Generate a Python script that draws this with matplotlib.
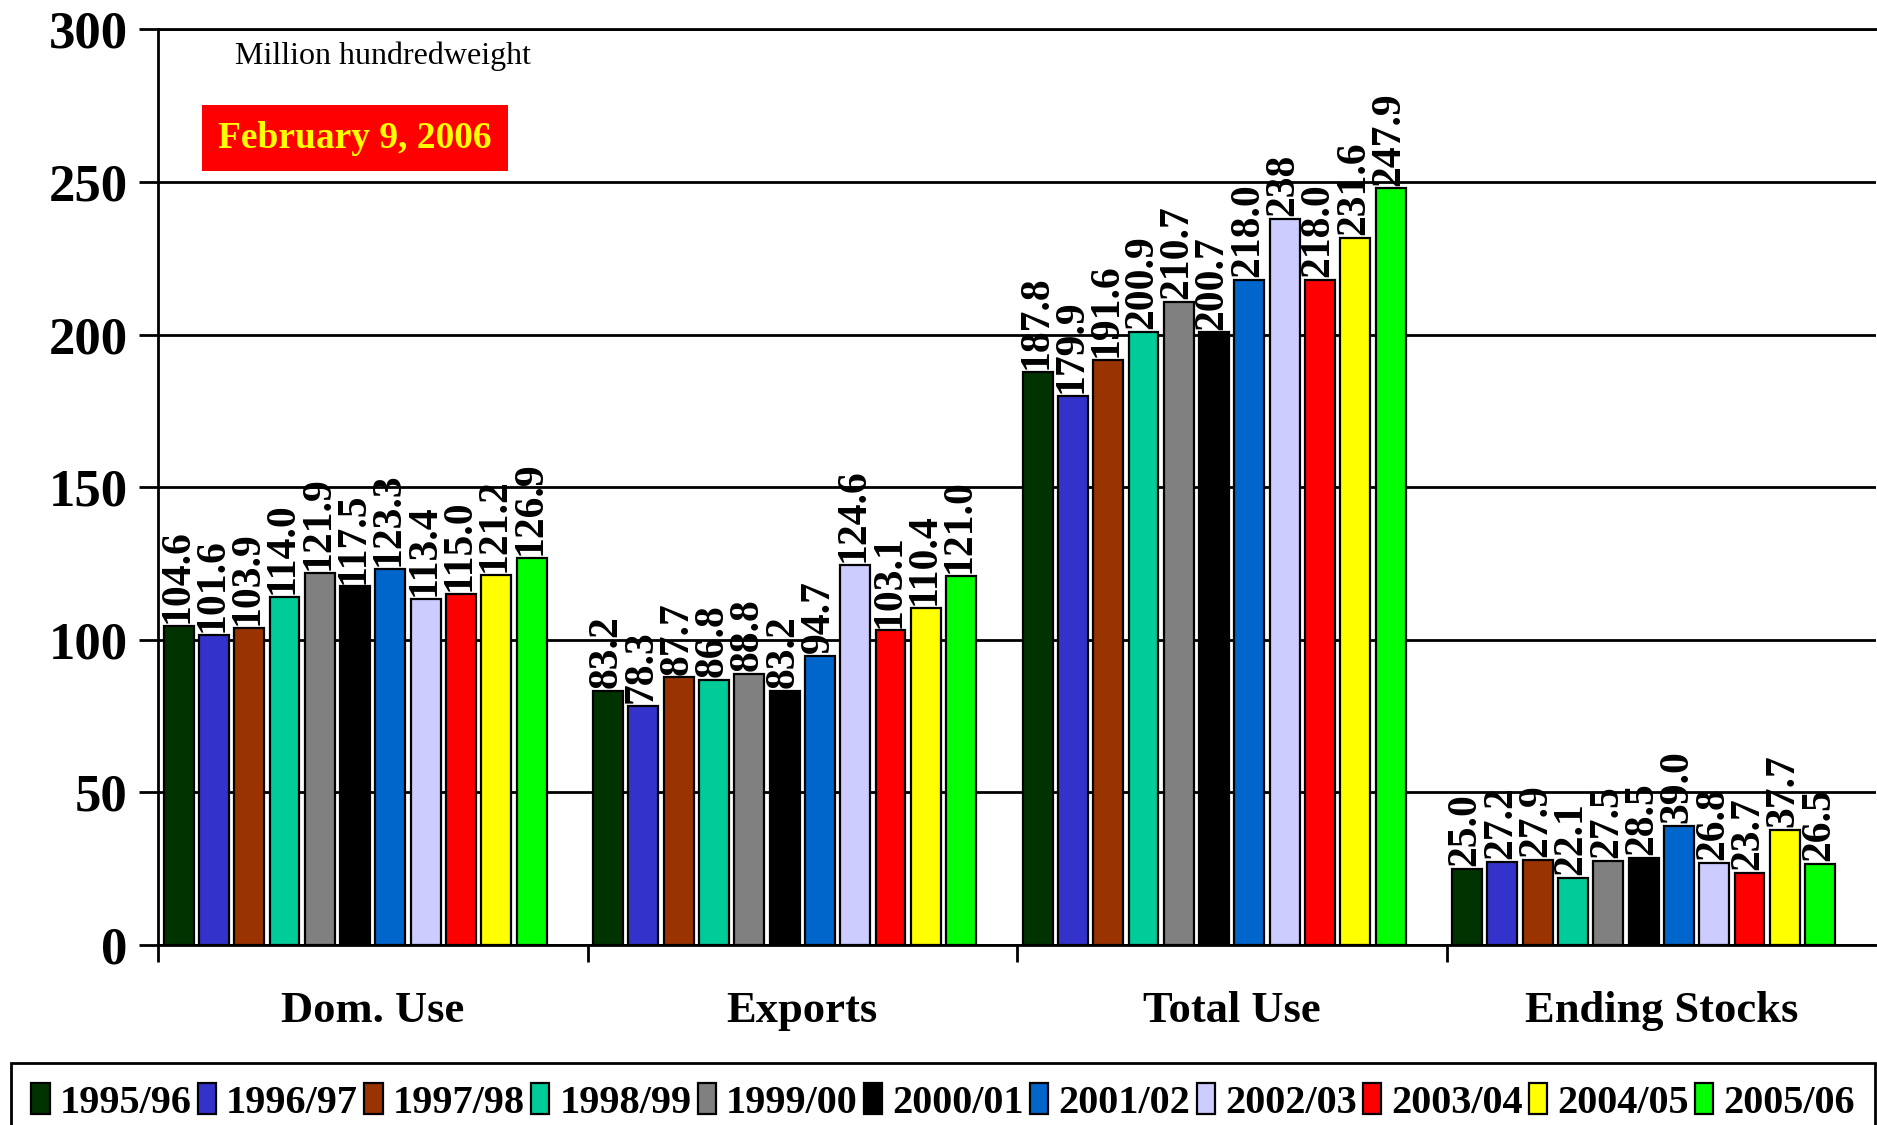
import matplotlib.pyplot as plt
import numpy as np

plt.rcParams['font.family'] = ['Liberation Serif', 'DejaVu Serif']

# data
categories = ['Dom. Use', 'Exports', 'Total Use', 'Ending Stocks']
years = ['1995/96', '1996/97', '1997/98', '1998/99', '1999/00', '2000/01',
         '2001/02', '2002/03', '2003/04', '2004/05', '2005/06']
dom_use = [104.6, 101.6, 103.9, 114.0, 121.9, 117.5, 123.3, 113.4, 115.0, 121.2, 126.9]
exports = [83.2, 78.3, 87.7, 86.8, 88.8, 83.2, 94.7, 124.6, 103.1, 110.4, 121.0]
total_use = [187.8, 179.9, 191.6, 200.9, 210.7, 200.7, 218.0, 238, 218.0, 231.6, 247.9]
ending_stocks = [25.0, 27.2, 27.9, 22.1, 27.5, 28.5, 39.0, 26.8, 23.7, 37.7, 26.5]
label_overrides = {(2, 7): '238'}

colors = ['#003300', '#3333CC', '#993300', '#00CC99', '#808080', '#000000',
          '#0066CC', '#CCCCFF', '#FF0000', '#FFFF00', '#00FF00']

series = np.array([dom_use, exports, total_use, ending_stocks])

W, H = 1877, 1125
fig = plt.figure(figsize=(W / 100, H / 100), dpi=100, facecolor='w')
ax = fig.add_axes([0.0842, 0.16, 0.9153, 0.814])

start = 0.013
pitch = 0.0822
width = 0.0696
bars = []
for i, (yr, c) in enumerate(zip(years, colors)):
    x = np.arange(len(categories)) + start + i * pitch
    vals = series[:, i]
    b = ax.bar(x, vals, width, align='edge', color=c, edgecolor='black',
               linewidth=1.6, label=yr, zorder=3)
    bars.append(b)
    for g, (xx, v) in enumerate(zip(x, vals)):
        txt = label_overrides.get((g, i), '%.1f' % v)
        ax.annotate(txt, (xx + width / 2, v), xytext=(-1, 2),
                    textcoords='offset points', rotation=90, ha='center',
                    va='bottom', fontsize=30, fontweight='bold', zorder=4)

ax.set_xlim(0, 4)
ax.set_ylim(0, 300)
ax.set_yticks(np.arange(0, 301, 50))
ax.set_yticklabels([str(v) for v in range(0, 301, 50)], fontsize=38,
                   fontweight='bold')
ax.yaxis.grid(True, color='black', linewidth=2, zorder=0)
ax.set_xticks([0, 1, 2, 3])
ax.set_xticklabels([])
ax.set_xticks(np.arange(4) + 0.5, minor=True)
ax.set_xticklabels(categories, minor=True, fontsize=32, fontweight='bold')
ax.tick_params(axis='x', which='minor', length=0, pad=33)
ax.tick_params(axis='x', which='major', length=12, width=2, direction='out')
ax.tick_params(axis='y', length=14, width=2, direction='out', pad=8)
ax.spines['right'].set_visible(False)
for s in ['left', 'bottom', 'top']:
    ax.spines[s].set_linewidth(2)

# annotations placed in pixel coordinates
ax.text(235, H - 56, 'Million hundredweight', transform=None, fontsize=23,
        va='center', ha='left')
ax.text(355, H - 138, 'February 9, 2006', transform=None, fontsize=27,
        fontweight='bold', color='#FFFF00', ha='center', va='center',
        bbox=dict(boxstyle='square,pad=0.42', facecolor='#FF0000',
                  edgecolor='none'))

leg = fig.legend(handles=bars, labels=years, loc='lower left',
                 bbox_to_anchor=(0.006, -0.015, 0.993, 0.085), mode='expand',
                 ncol=11, prop={'weight': 'bold', 'size': 29},
                 handlelength=0.45, handleheight=0.8, handletextpad=0.25,
                 columnspacing=0.35, borderaxespad=0, fancybox=False,
                 borderpad=0.5, edgecolor='black', framealpha=1)
leg.get_frame().set_linewidth(2)

fig.savefig('out.png', dpi=100)
